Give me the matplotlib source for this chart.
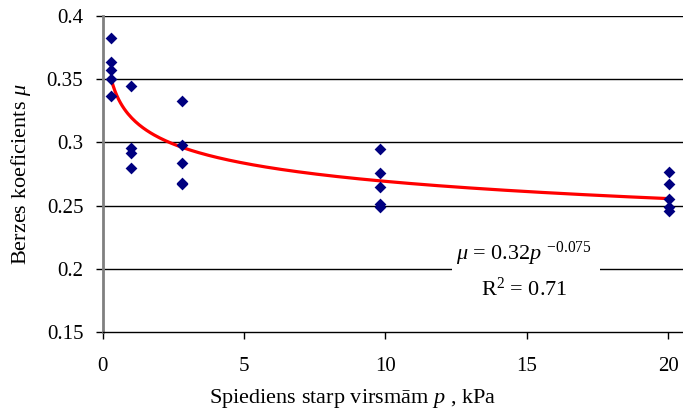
import matplotlib
matplotlib.use("Agg")
import matplotlib.pyplot as plt
from matplotlib.patches import Rectangle
import numpy as np

plt.rcParams['font.family'] = ['Liberation Serif', 'DejaVu Serif']
plt.rcParams['mathtext.fontset'] = 'custom'
plt.rcParams['mathtext.rm'] = 'Liberation Serif'
plt.rcParams['mathtext.it'] = 'Liberation Serif:italic'

# Measured friction coefficient vs contact pressure
pressure = [0.3, 0.3, 0.3, 0.3, 0.3,
            1.0, 1.0, 1.0, 1.0,
            2.8, 2.8, 2.8, 2.8, 2.8,
            9.8, 9.8, 9.8, 9.8, 9.8,
            20.05, 20.05, 20.05, 20.05, 20.05]
mu = [0.383, 0.364, 0.357, 0.350, 0.337,
      0.345, 0.296, 0.292, 0.280,
      0.333, 0.298, 0.284, 0.268, 0.267,
      0.295, 0.276, 0.265, 0.251, 0.249,
      0.277, 0.267, 0.255, 0.249, 0.246]

# Power-law trend: mu = a * p^b
fit_a = 0.32
fit_b = -0.075
fit_r2 = 0.71

xticks = [0, 5, 10, 15, 20]
yticks = [0.15, 0.2, 0.25, 0.3, 0.35, 0.4]
yticklabels = ['0.15', '0.2', '0.25', '0.3', '0.35', '0.4']

fig = plt.figure(figsize=(6.83, 4.13), dpi=100)
ax = fig.add_axes([0.1504, 0.196, 0.8496, 0.765])

ax.set_xlim(0, 20.53)
ax.set_ylim(0.15, 0.4)

for y in yticks[1:]:
    ax.axhline(y, color='black', lw=1.0, zorder=1)

ax.scatter(pressure, mu, marker='D', s=36, color='#000080', zorder=3, linewidths=0)

p = np.linspace(min(pressure), max(pressure), 300)
ax.plot(p, fit_a * p ** fit_b, color='#ff0000', lw=2.3, zorder=2)

ax.set_xticks(xticks)
ax.set_xticklabels([str(t) for t in xticks])
ax.set_yticks(yticks)
ax.set_yticklabels(yticklabels)
ax.tick_params(axis='both', labelsize=15, direction='out', length=5, width=1, color='black')
ax.tick_params(axis='x', pad=13)
ax.tick_params(axis='y', pad=9)

for s in ['top', 'right']:
    ax.spines[s].set_visible(False)
ax.spines['left'].set_color('#808080')
ax.spines['left'].set_linewidth(2)
ax.spines['bottom'].set_color('black')
ax.spines['bottom'].set_linewidth(1)

ax.set_xlabel(r'Spiediens starp virsmām $p$ , kPa', fontsize=16)
ax.xaxis.set_label_coords(0.431, -0.226, transform=ax.transAxes)
ax.xaxis.label.set_va('baseline')
ax.set_ylabel(r'Berzes koeficients $\mu$', fontsize=16, labelpad=10)

# white backing for the trendline equation
ax.add_patch(Rectangle((0.602, 0.10), 0.255, 0.19, transform=ax.transAxes,
                       facecolor='white', edgecolor='none', zorder=1.5))
eq = r'$\mu$ = 0.32$p$ $^{-0.075}$'
ax.text(0.726, 0.247, eq, transform=ax.transAxes, ha='center', va='center',
        fontsize=16, zorder=4)
ax.text(0.726, 0.136, r'R$^{2}$ = %.2f' % fit_r2, transform=ax.transAxes,
        ha='center', va='center', fontsize=16, zorder=4)

fig.savefig('out.png', dpi=100)
